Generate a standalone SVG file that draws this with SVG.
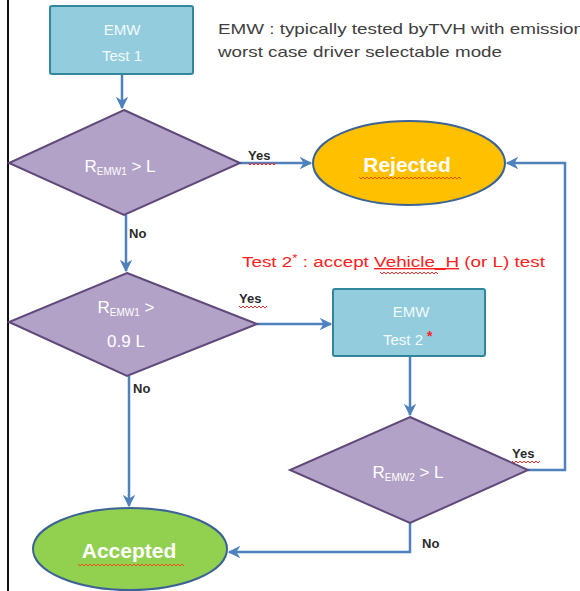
<svg xmlns="http://www.w3.org/2000/svg" width="580" height="591" viewBox="0 0 580 591">
<defs>
<style>
.box{fill:#93CDDD;stroke:#31859C;stroke-width:2}
.dia{fill:#B3A2C7;stroke:#5F497A;stroke-width:2}
.conn{fill:none;stroke:#4F81BD;stroke-width:2.5}
.wt{font-family:"Liberation Sans",Arial,sans-serif;fill:#FFFFFF;text-anchor:middle}
.bt{font-family:"Liberation Sans",Arial,sans-serif;fill:#F2FAFC;text-anchor:middle;font-size:15px}
.lbl{font-family:"Liberation Sans",Arial,sans-serif;font-size:13px;fill:#2B2B2B;font-weight:bold}
.note{font-family:"Liberation Sans",Arial,sans-serif;font-size:15px;fill:#404040}
.red{font-family:"Liberation Sans",Arial,sans-serif;font-size:14px;fill:#FF2020}
.sq{fill:none;stroke:#E83030;stroke-width:1}
</style>
<marker id="arr" viewBox="0 0 10 10" refX="9" refY="5" markerWidth="5" markerHeight="5" orient="auto" markerUnits="strokeWidth">
<path d="M0,0 L10,5 L0,10 L3,5 z" fill="#4F81BD"/>
</marker>
</defs>
<rect width="580" height="591" fill="#FFFFFF"/>
<line x1="8" y1="0" x2="8" y2="591" stroke="#111111" stroke-width="2"/>

<g id="connectors">
<path class="conn" d="M122,74 L122,108" marker-end="url(#arr)"/>
<path class="conn" d="M126,215 L126,271" marker-end="url(#arr)"/>
<path class="conn" d="M129,376 L129,506" marker-end="url(#arr)"/>
<path class="conn" d="M240,163 L311,163" marker-end="url(#arr)"/>
<path class="conn" d="M257,324 L331,324" marker-end="url(#arr)"/>
<path class="conn" d="M410,356 L410,415" marker-end="url(#arr)"/>
<path class="conn" d="M528,470 L565,470 L565,163 L507,163" marker-end="url(#arr)"/>
<path class="conn" d="M410,523 L410,552 L229,552" marker-end="url(#arr)"/>
</g>

<g id="note">
<text class="note" x="218" y="34" textLength="366" lengthAdjust="spacingAndGlyphs">EMW : typically tested byTVH with emission</text>
<text class="note" x="218" y="57" textLength="284" lengthAdjust="spacingAndGlyphs">worst case driver selectable mode</text>
</g>

<g id="test2note">
<text class="red" x="242" y="267" textLength="303" lengthAdjust="spacingAndGlyphs">Test 2<tspan font-size="10" dy="-5">*</tspan><tspan dy="5"> : accept </tspan><tspan text-decoration="underline">Vehicle_H</tspan> (or L) test</text>
<path class="sq" d="M380,272 l2,2 l2,-2 l2,2 l2,-2 l2,2 l2,-2 l2,2 l2,-2 l2,2 l2,-2 l2,2 l2,-2 l2,2 l2,-2 l2,2 l2,-2 l2,2 l2,-2 l2,2 l2,-2 l2,2 l2,-2 l2,2 l2,-2 l2,2 l2,-2 l2,2 l2,-2 l2,2"/>
</g>

<g id="emw-test1">
<rect class="box" x="50" y="6" width="143" height="68" rx="2"/>
<text class="bt" x="122" y="35">EMW</text>
<text class="bt" x="122" y="61">Test 1</text>
</g>

<g id="decision1">
<polygon class="dia" points="124,110 240,163 124,215 9,163"/>
<text class="wt" x="120" y="172" font-size="17">R<tspan font-size="10" dy="3">EMW1</tspan><tspan dy="-3"> &gt; L</tspan></text>
</g>

<g id="rejected">
<ellipse cx="409" cy="163" rx="96" ry="42" fill="#FFC000" stroke="#3B6395" stroke-width="2"/>
<text class="wt" x="407" y="172" font-size="21" font-weight="bold">Rejected</text>
<path d="M359,177 l2,2 l2,-2 l2,2 l2,-2 l2,2 l2,-2 l2,2 l2,-2 l2,2 l2,-2 l2,2 l2,-2 l2,2 l2,-2 l2,2 l2,-2 l2,2 l2,-2 l2,2 l2,-2 l2,2 l2,-2 l2,2 l2,-2 l2,2 l2,-2 l2,2 l2,-2 l2,2 l2,-2 l2,2 l2,-2 l2,2 l2,-2 l2,2 l2,-2 l2,2 l2,-2 l2,2 l2,-2 l2,2 l2,-2 l2,2 l2,-2 l2,2 l2,-2 l2,2 l2,-2 l2,2 l2,-2 l2,2" fill="none" stroke="#E85020" stroke-width="1"/>
</g>

<g id="decision2">
<polygon class="dia" points="127,273 257,324 127,376 9,322"/>
<text class="wt" x="126" y="313" font-size="17">R<tspan font-size="10" dy="3">EMW1</tspan><tspan dy="-3"> &gt;</tspan></text>
<text class="wt" x="126" y="347" font-size="17">0.9 L</text>
</g>

<g id="emw-test2">
<rect class="box" x="333" y="289" width="152" height="67" rx="2"/>
<text class="bt" x="411" y="317">EMW</text>
<text class="bt" x="403" y="345">Test 2</text>
<text x="427" y="341" font-family="Liberation Sans,Arial,sans-serif" font-size="14" fill="#FF2020" font-weight="bold">*</text>
</g>

<g id="decision3">
<polygon class="dia" points="410,417 528,470 410,523 290,470"/>
<text class="wt" x="408" y="478" font-size="17">R<tspan font-size="10" dy="3">EMW2</tspan><tspan dy="-3"> &gt; L</tspan></text>
</g>

<g id="accepted">
<ellipse cx="130" cy="549" rx="97" ry="41" fill="#92D050" stroke="#3B6395" stroke-width="2"/>
<text class="wt" x="129" y="558" font-size="21" font-weight="bold">Accepted</text>
<path d="M78,564 l2,2 l2,-2 l2,2 l2,-2 l2,2 l2,-2 l2,2 l2,-2 l2,2 l2,-2 l2,2 l2,-2 l2,2 l2,-2 l2,2 l2,-2 l2,2 l2,-2 l2,2 l2,-2 l2,2 l2,-2 l2,2 l2,-2 l2,2 l2,-2 l2,2 l2,-2 l2,2 l2,-2 l2,2 l2,-2 l2,2 l2,-2 l2,2 l2,-2 l2,2 l2,-2 l2,2 l2,-2 l2,2 l2,-2 l2,2 l2,-2 l2,2 l2,-2 l2,2 l2,-2 l2,2 l2,-2 l2,2 l2,-2 l2,2" fill="none" stroke="#E85020" stroke-width="1"/>
</g>

<g id="labels">
<text class="lbl" x="248" y="160">Yes</text>
<path class="sq" d="M248,163 l2,2 l2,-2 l2,2 l2,-2 l2,2 l2,-2 l2,2 l2,-2 l2,2 l2,-2 l2,2 l2,-2 l2,2 l2,-2"/>
<text class="lbl" x="239" y="303">Yes</text>
<path class="sq" d="M239,306 l2,2 l2,-2 l2,2 l2,-2 l2,2 l2,-2 l2,2 l2,-2 l2,2 l2,-2 l2,2 l2,-2 l2,2 l2,-2"/>
<text class="lbl" x="512" y="458">Yes</text>
<path class="sq" d="M512,461 l2,2 l2,-2 l2,2 l2,-2 l2,2 l2,-2 l2,2 l2,-2 l2,2 l2,-2 l2,2 l2,-2 l2,2 l2,-2"/>
<text class="lbl" x="129" y="238">No</text>
<text class="lbl" x="133" y="393">No</text>
<text class="lbl" x="422" y="548">No</text>
</g>
</svg>
